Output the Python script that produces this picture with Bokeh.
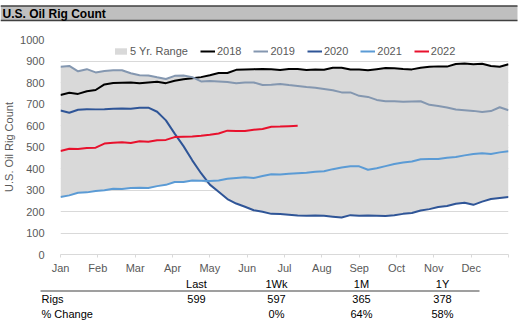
from bokeh.plotting import figure
from bokeh.models import Range1d, FixedTicker, Legend, LegendItem
from bokeh.layouts import column
from bokeh.core.properties import value
from bokeh.embed import file_html
from bokeh.resources import INLINE
import numpy as np

# ---------------- data ----------------
title_text = "U.S. Oil Rig Count"
y_title = "U.S. Oil Rig Count"
months = ["Jan", "Feb", "Mar", "Apr", "May", "Jun", "Jul", "Aug", "Sep", "Oct", "Nov", "Dec"]

rigs_2018 = [742, 752, 747, 759, 765, 791, 798, 799, 800, 796, 800, 804, 797, 808, 815, 820,
             825, 834, 844, 844, 859, 861, 862, 863, 862, 858, 863, 863, 858, 861, 859, 869,
             869, 860, 860, 857, 862, 867, 866, 863, 861, 869, 873, 875, 874, 886, 888, 885,
             887, 877, 873, 885]
rigs_2019 = [873, 877, 852, 862, 847, 854, 857, 857, 843, 834, 833, 824, 816, 831, 833, 825,
             805, 807, 805, 802, 797, 800, 800, 788, 789, 793, 788, 784, 779, 776, 770, 764,
             754, 754, 738, 733, 719, 713, 713, 710, 712, 713, 696, 691, 684, 674, 671, 668,
             663, 667, 685, 671]
rigs_2020 = [670, 659, 673, 676, 675, 676, 678, 679, 678, 682, 683, 664, 624, 562, 504, 438,
             378, 325, 292, 258, 237, 222, 206, 199, 189, 188, 185, 181, 180, 181, 180, 176,
             172, 183, 180, 181, 180, 179, 183, 189, 193, 205, 211, 221, 226, 236, 241, 231,
             246, 258, 263, 267]
rigs_2021 = [267, 275, 287, 289, 295, 299, 306, 305, 309, 310, 309, 318, 324, 337, 337, 344,
             343, 342, 344, 352, 356, 359, 356, 365, 373, 372, 376, 378, 380, 385, 387, 397,
             405, 410, 410, 394, 401, 411, 421, 428, 433, 443, 444, 444, 450, 454, 461, 467,
             471, 467, 475, 480]
rigs_2022 = [481, 492, 491, 495, 497, 516, 520, 522, 519, 527, 524, 531, 533, 546, 548, 549,
             552, 557, 563, 576, 574, 574, 580, 584, 594, 595, 597, 599]

table_cols = ["Last", "1Wk", "1M", "1Y"]
rigs_row = ["599", "597", "365", "378"]
pct_row = ["", "0%", "64%", "58%"]
row_names = ["Rigs", "% Change"]

# ---------------- styles ----------------
FONT = "Liberation Sans"
GRAY_TXT = "#595959"
series = [
    ("2018", rigs_2018, "#000000"),
    ("2019", rigs_2019, "#8497b0"),
    ("2020", rigs_2020, "#2f5597"),
    ("2021", rigs_2021, "#5b9bd5"),
    ("2022", rigs_2022, "#e8112d"),
]
STEP = 12 / 51.0  # weekly step in month units


def xs(n):
    return [i * STEP for i in range(n)]


W = 528
TOP_H = 24      # title bar figure: page y 0..24
TAB_Y0 = 276    # table figure: page y 276..324

# ---------------- title bar ----------------
pt = figure(width=W, height=TOP_H, x_range=Range1d(0, W), y_range=Range1d(TOP_H, 0),
            x_axis_type=None, y_axis_type=None, toolbar_location=None,
            output_backend="svg", min_border=0)
pt.frame_align = False
pt.outline_line_color = None
pt.quad(left=[0], right=[517], top=[5.5], bottom=[20], fill_color="#bfbfbf", line_color=None)
pt.segment(x0=[0, 0], x1=[517, 517], y0=[5.5, 20], y1=[5.5, 20], line_color="#404040", line_width=1.5)
pt.text(x=[2], y=[13], text=[title_text], text_font=value(FONT), text_font_size="12px",
        text_font_style="bold", text_baseline="middle", text_color="#000000")

# ---------------- main chart ----------------
p = figure(width=W, height=TAB_Y0 - TOP_H, x_range=Range1d(0, 12), y_range=Range1d(0, 1000),
           toolbar_location=None, output_backend="svg",
           min_border_left=59, min_border_right=20, min_border_top=39 - TOP_H,
           min_border_bottom=TAB_Y0 - 254)
p.frame_align = False
p.outline_line_color = None
p.xgrid.visible = False
p.ygrid.grid_line_color = "#d9d9d9"
p.ygrid.ticker = FixedTicker(ticks=list(range(0, 1001, 100)))

n_full = min(len(rigs_2018), len(rigs_2019), len(rigs_2020), len(rigs_2021))
stack = np.array([rigs_2018[:n_full], rigs_2019[:n_full], rigs_2020[:n_full], rigs_2021[:n_full]])
rng = p.varea(x=xs(n_full), y1=stack.min(axis=0), y2=stack.max(axis=0), fill_color="#d9d9d9")

items = [LegendItem(label="5 Yr. Range", renderers=[rng])]
for name, vals, col in series:
    r = p.line(xs(len(vals)), vals, line_color=col, line_width=2)
    items.append(LegendItem(label=name, renderers=[r]))

leg = Legend(items=items, orientation="horizontal", location=(53, 197),
             background_fill_alpha=0, border_line_color=None, padding=0, margin=0,
             spacing=12, label_standoff=2, glyph_width=15, glyph_height=8,
             label_height=13, label_text_font=FONT, label_text_font_size="11px",
             label_text_color=GRAY_TXT)
p.add_layout(leg, "center")

# y axis
p.yaxis.ticker = FixedTicker(ticks=list(range(0, 1001, 100)))
p.yaxis.axis_line_color = None
p.yaxis.major_tick_line_color = None
p.yaxis.minor_tick_line_color = None
p.yaxis.major_label_standoff = 10
p.yaxis.major_label_text_font = FONT
p.yaxis.major_label_text_font_size = "11px"
p.yaxis.major_label_text_color = GRAY_TXT
p.yaxis.axis_label = y_title
p.yaxis.axis_label_text_font = FONT
p.yaxis.axis_label_text_font_size = "11px"
p.yaxis.axis_label_text_font_style = "normal"
p.yaxis.axis_label_text_color = GRAY_TXT
p.yaxis.axis_label_standoff = 2

# x axis
p.xaxis.ticker = FixedTicker(ticks=list(range(0, 13)))
p.xaxis.major_label_overrides = {i: (months[i] if i < 12 else "") for i in range(13)}
p.xaxis.axis_line_color = "#d9d9d9"
p.xaxis.major_tick_line_color = "#d9d9d9"
p.xaxis.major_tick_in = 0
p.xaxis.major_tick_out = 3
p.xaxis.minor_tick_line_color = None
p.xaxis.major_label_standoff = 4
p.xaxis.major_label_text_font = FONT
p.xaxis.major_label_text_font_size = "11px"
p.xaxis.major_label_text_color = GRAY_TXT

# ---------------- table ----------------
tb = figure(width=W, height=324 - TAB_Y0, x_range=Range1d(0, W), y_range=Range1d(324, TAB_Y0),
            x_axis_type=None, y_axis_type=None, toolbar_location=None,
            output_backend="svg", min_border=0)
tb.frame_align = False
tb.outline_line_color = None
col_x = [196, 276, 361, 442]
tb.text(x=col_x, y=[283] * 4, text=table_cols, text_font=value(FONT), text_font_size="11px",
        text_align="center", text_baseline="middle", text_color="#000000")
tb.segment(x0=[40], x1=[479], y0=[290.5], y1=[290.5], line_color="#404040", line_width=1.2)
tb.text(x=[41, 41], y=[298, 313], text=row_names, text_font=value(FONT), text_font_size="11px",
        text_align="left", text_baseline="middle", text_color="#000000")
tb.text(x=col_x, y=[298] * 4, text=rigs_row, text_font=value(FONT), text_font_size="11px",
        text_align="center", text_baseline="middle", text_color="#000000")
tb.text(x=col_x, y=[313] * 4, text=pct_row, text_font=value(FONT), text_font_size="11px",
        text_align="center", text_baseline="middle", text_color="#000000")

layout = column(pt, p, tb, spacing=0)
open("out.html", "w").write(file_html(layout, INLINE))
